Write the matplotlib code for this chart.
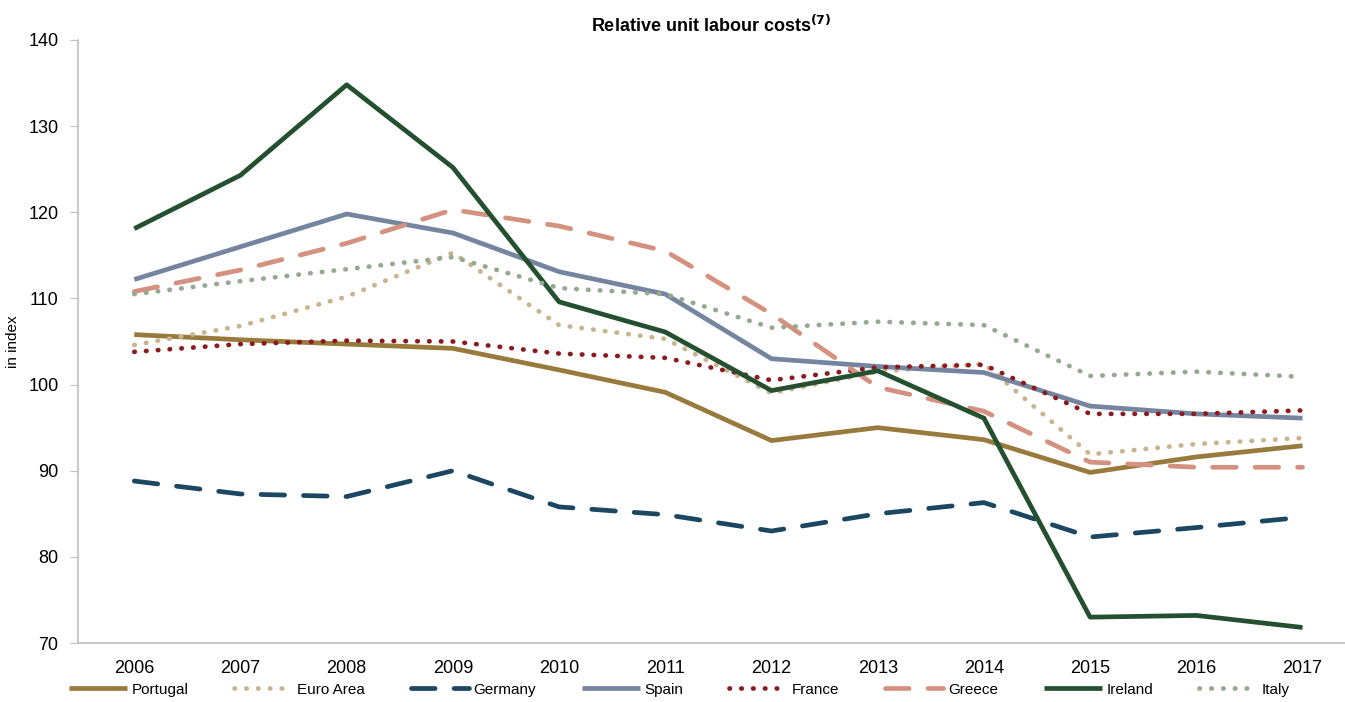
import matplotlib
matplotlib.use("Agg")
import matplotlib.pyplot as plt
from matplotlib import font_manager

# 글꼴: 좁은 Arial 비슷한 글꼴이 있으면 사용
names = {f.name for f in font_manager.fontManager.ttflist}
if "Liberation Sans Narrow" in names:
    plt.rcParams['font.family'] = ['Liberation Sans Narrow', 'DejaVu Sans']
else:
    plt.rcParams['font.family'] = ['Liberation Sans', 'DejaVu Sans']

years = ["2006", "2007", "2008", "2009", "2010", "2011",
         "2012", "2013", "2014", "2015", "2016", "2017"]

portugal = [105.8, 105.2, 104.7, 104.2, 101.7, 99.1, 93.5, 95.0, 93.6, 89.8, 91.6, 92.9]
euro_area = [104.6, 106.8, 110.2, 115.3, 106.9, 105.3, 99.0, 101.5, 102.4, 91.9, 93.1, 93.8]
germany = [88.8, 87.3, 87.0, 90.0, 85.8, 84.9, 83.0, 85.0, 86.3, 82.3, 83.4, 84.6]
spain = [112.2, 116.0, 119.8, 117.6, 113.1, 110.5, 103.0, 102.1, 101.4, 97.5, 96.6, 96.1]
france = [103.8, 104.7, 105.1, 105.0, 103.6, 103.1, 100.5, 102.0, 102.3, 96.6, 96.6, 97.0]
greece = [110.8, 113.3, 116.4, 120.3, 118.4, 115.5, 108.2, 99.7, 96.9, 91.0, 90.4, 90.4]
ireland = [118.1, 124.3, 134.8, 125.2, 109.6, 106.1, 99.3, 101.6, 96.1, 73.0, 73.2, 71.8]
italy = [110.5, 112.0, 113.4, 114.8, 111.2, 110.5, 106.6, 107.3, 106.9, 101.0, 101.5, 100.9]

dot = (0, (0.1, 2.4))
dash = (0, (5, 4))

series = [
    ("Portugal", portugal, "#987a3d", "-"),
    ("Euro Area", euro_area, "#c8b48f", dot),
    ("Germany", germany, "#1b4763", dash),
    ("Spain", spain, "#7585a0", "-"),
    ("France", france, "#8b1a1f", dot),
    ("Greece", greece, "#d4917f", dash),
    ("Ireland", ireland, "#245030", "-"),
    ("Italy", italy, "#94a98f", dot),
]

fig = plt.figure(figsize=(13.45, 7.02), dpi=100)
ax = fig.add_axes([78 / 1345, 1 - 643 / 702, 1 - 78 / 1345, (643 - 40) / 702])

x = list(range(len(years)))
for name, vals, col, ls in series:
    ax.plot(x, vals, color=col, linestyle=ls, linewidth=3.4, label=name,
            solid_capstyle='butt', dash_capstyle='round')

ax.set_ylim(70, 140)
ax.set_yticks(range(70, 141, 10))
ax.set_xlim(-0.53, 11.4)
ax.set_xticks(x)
ax.set_xticklabels(years)

for s in ["top", "right"]:
    ax.spines[s].set_visible(False)
for s in ["left", "bottom"]:
    ax.spines[s].set_color("#bfbfbf")
    ax.spines[s].set_linewidth(1.2)
ax.tick_params(axis='y', length=6, color="#bfbfbf", labelsize=13, pad=8)
ax.tick_params(axis='x', length=0, labelsize=13, pad=12)

ax.set_ylabel("in index", fontsize=11)
ax.yaxis.set_label_coords(-0.046, 0.5)
ax.set_title("Relative unit labour costs$^{\\mathbf{(7)}}$", fontsize=13, fontweight='bold', pad=6)

fig.legend(loc='lower center', ncol=8, bbox_to_anchor=(0.505, -0.012), frameon=False,
           fontsize=11, handlelength=3.8, columnspacing=3.0, handletextpad=0.3)

fig.savefig("out.png", dpi=100)
